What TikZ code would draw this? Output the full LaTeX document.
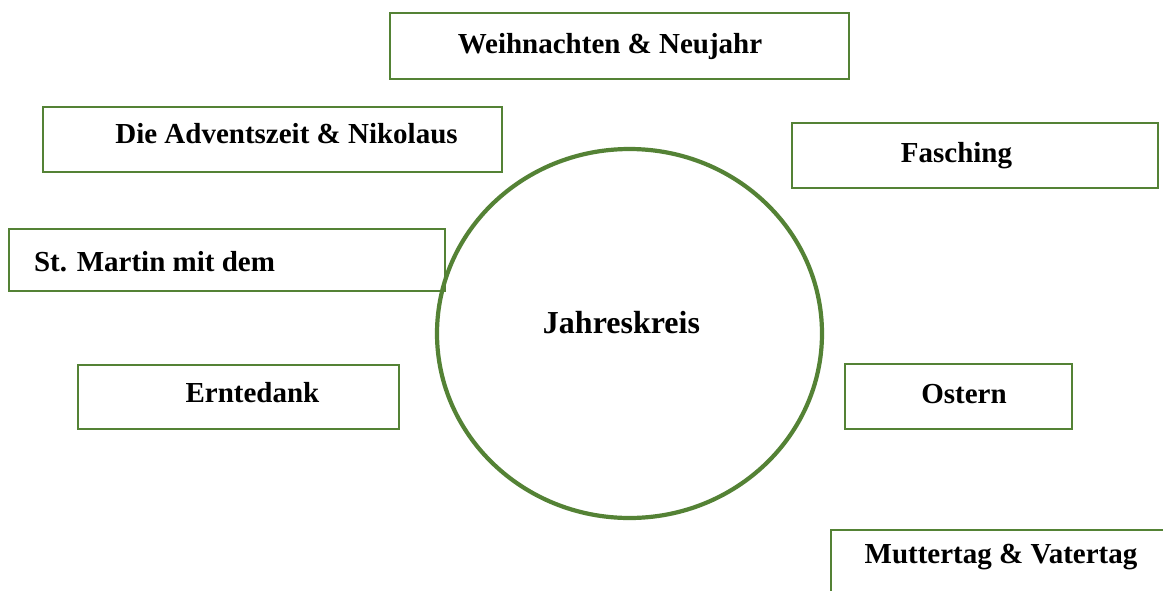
\documentclass[tikz,border=0pt]{standalone}
\usepackage{fontspec}
\setmainfont{Liberation Serif}
\usetikzlibrary{shapes.geometric}
\definecolor{boxgreen}{RGB}{84,130,53}
\tikzset{
  evbox/.style={draw=boxgreen, line width=2.8pt, fill=white, rectangle, inner sep=0pt, outer sep=0pt},
  evtext/.style={anchor=base, inner sep=0pt, font=\fontsize{29}{34}\selectfont\bfseries},
  hub/.style={draw=boxgreen, line width=4.2pt, ellipse, inner sep=0pt, outer sep=0pt},
  hubtext/.style={anchor=base, inner sep=0pt, font=\fontsize{32}{38}\selectfont\bfseries}
}
\begin{document}
\begin{tikzpicture}[x=1pt,y=-1pt]
\useasboundingbox (0,0) rectangle (1163,590);
\clip (0,0) rectangle (1163,590);
\fill[white] (0,0) rectangle (1163,590);
% boxes
\node[evbox, minimum width=459pt, minimum height=66pt] (wn) at (619.5,46) {};
\node[evbox, minimum width=459pt, minimum height=65pt] (ad) at (272.5,139.5) {};
\node[evbox, minimum width=366pt, minimum height=65pt] (fa) at (975,155.5) {};
\node[evbox, minimum width=436pt, minimum height=62pt] (sm) at (227,260) {};
\node[evbox, minimum width=321pt, minimum height=64pt] (ed) at (238.5,397) {};
\node[evbox, minimum width=227pt, minimum height=65pt] (os) at (958.5,396.5) {};
\node[evbox, minimum width=370pt, minimum height=80pt] (mv) at (1016,570) {};
% circle
\node[hub, minimum width=385pt, minimum height=369pt] (jk) at (629.5,333.5) {};
% texts
\node[evtext] (twn) at (610,53) {Weihnachten \& Neujahr};
\node[evtext] (tad) at (286.5,143) {Die Adventszeit \& Nikolaus};
\node[evtext] (tfa) at (956.5,162) {Fasching};
\node[evtext] (tsm) at (154.5,271) {St. Martin mit dem};
\node[evtext] (ted) at (252.5,402) {Erntedank};
\node[evtext] (tos) at (964,403) {Ostern};
\node[evtext] (tmv) at (1001,563) {Muttertag \& Vatertag};
\node[hubtext] (tjk) at (621.5,333) {Jahreskreis};
\end{tikzpicture}
\end{document}
